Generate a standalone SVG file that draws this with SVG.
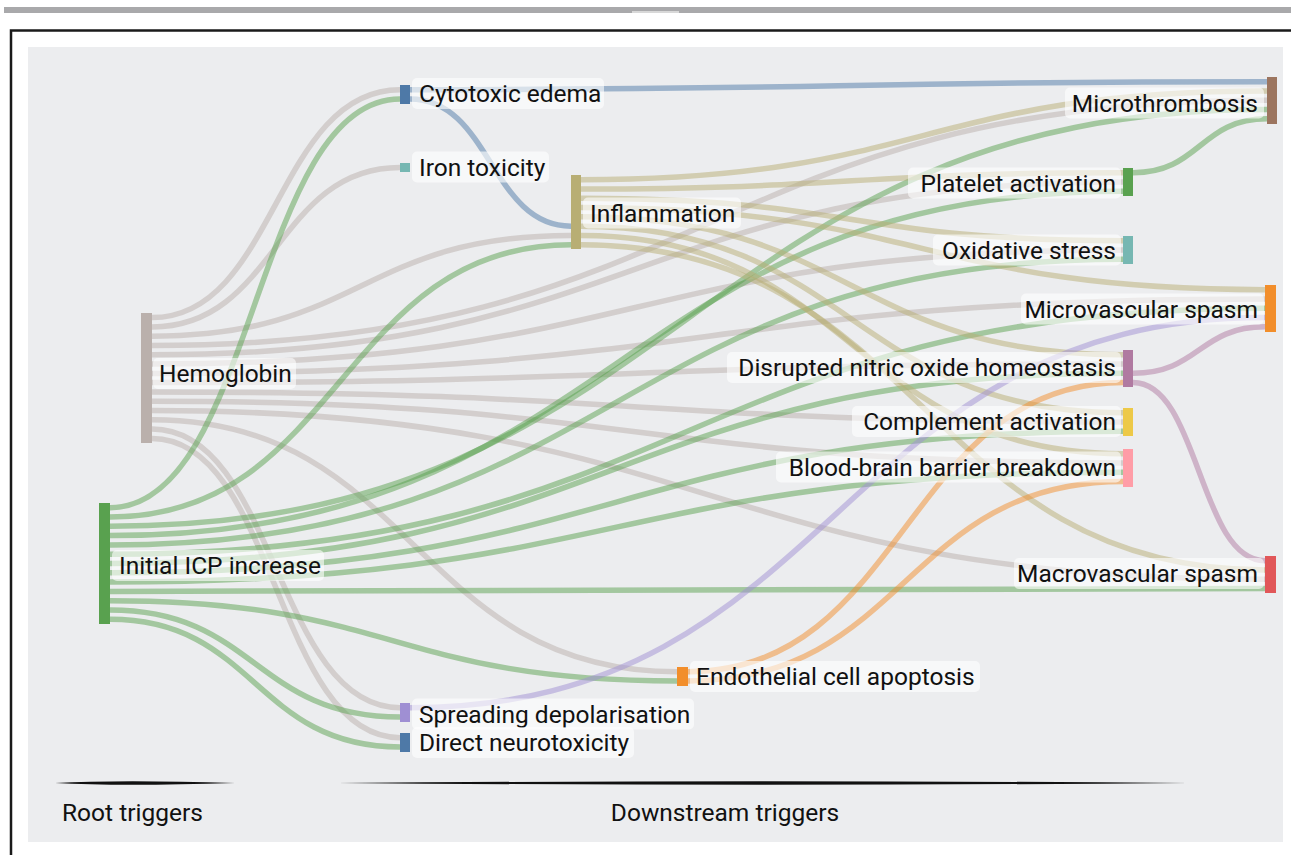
<svg xmlns="http://www.w3.org/2000/svg" width="1291" height="855" viewBox="0 0 1291 855">
<style>
.l{fill:none;stroke-width:5.5;stroke-opacity:0.5}
.hb{stroke:#bab0ac}.icp{stroke:#59a14f}.ce{stroke:#4e79a7}.inf{stroke:#b8ae74}.pa{stroke:#59a14f}
.eca{stroke:#f28e2b}.sd{stroke:#9f8fd3}.dno{stroke:#b07aa1}
.bg{fill:#ffffff;fill-opacity:0.6}
.t{font-family:Roboto,"Liberation Sans",sans-serif;font-size:24.5px;fill:#111}
.e{text-anchor:end}
</style>
<rect x="4" y="7" width="1287" height="6" fill="#a9a9ab"/>
<rect x="632" y="11" width="47" height="2" fill="#d8d8d8"/>
<path d="M11,855V30.5H1291" fill="none" stroke="#1a1a1a" stroke-width="2.5"/>
<rect x="28" y="47" width="1255" height="795" fill="#ecedef"/>
<g id="connectors">
<path class="l hb" d="M152,317.6C276,317.6 276,89.65 400,89.65"/>
<path class="l hb" d="M152,326.9C276,326.9 276,167.5 400,167.5"/>
<path class="l hb" d="M152,336.2C361.5,336.2 361.5,235.45 571,235.45"/>
<path class="l hb" d="M152,345.5C709.5,345.5 709.5,100.25 1267,100.25"/>
<path class="l hb" d="M152,354.8C637.5,354.8 637.5,181.95 1123,181.95"/>
<path class="l hb" d="M152,364.1C637.5,364.1 637.5,249.95 1123,249.95"/>
<path class="l hb" d="M152,373.4C708.5,373.4 708.5,298.95 1265,298.95"/>
<path class="l hb" d="M152,382.6C637.5,382.6 637.5,363.95 1123,363.95"/>
<path class="l hb" d="M152,391.9C637.5,391.9 637.5,421.95 1123,421.95"/>
<path class="l hb" d="M152,401.2C637.5,401.2 637.5,462.95 1123,462.95"/>
<path class="l hb" d="M152,410.5C708.5,410.5 708.5,579.25 1265,579.25"/>
<path class="l hb" d="M152,419.8C414.5,419.8 414.5,671.65 677,671.65"/>
<path class="l hb" d="M152,429.1C276,429.1 276,707.65 400,707.65"/>
<path class="l hb" d="M152,438.4C276,438.4 276,737.65 400,737.65"/>
<path class="l icp" d="M110,507.7C255,507.7 255,98.95 400,98.95"/>
<path class="l icp" d="M110,517C340.5,517 340.5,244.75 571,244.75"/>
<path class="l icp" d="M110,526.3C688.5,526.3 688.5,109.55 1267,109.55"/>
<path class="l icp" d="M110,535.6C616.5,535.6 616.5,191.25 1123,191.25"/>
<path class="l icp" d="M110,544.9C616.5,544.9 616.5,259.25 1123,259.25"/>
<path class="l icp" d="M110,554.2C687.5,554.2 687.5,308.25 1265,308.25"/>
<path class="l icp" d="M110,563.5C616.5,563.5 616.5,373.25 1123,373.25"/>
<path class="l icp" d="M110,572.8C616.5,572.8 616.5,431.25 1123,431.25"/>
<path class="l icp" d="M110,582.1C616.5,582.1 616.5,472.25 1123,472.25"/>
<path class="l icp" d="M110,591.4C687.5,591.4 687.5,588.55 1265,588.55"/>
<path class="l icp" d="M110,600.7C393.5,600.7 393.5,680.95 677,680.95"/>
<path class="l icp" d="M110,610C255,610 255,716.95 400,716.95"/>
<path class="l icp" d="M110,619.3C255,619.3 255,746.95 400,746.95"/>
<path class="l ce" d="M410,89.65C838.5,89.65 838.5,81.65 1267,81.65"/>
<path class="l ce" d="M410,98.95C490.5,98.95 490.5,226.15 571,226.15"/>
<path class="l inf" d="M581,179.65C924,179.65 924,90.95 1267,90.95"/>
<path class="l inf" d="M581,188.95C852,188.95 852,172.65 1123,172.65"/>
<path class="l inf" d="M581,198.25C852,198.25 852,240.65 1123,240.65"/>
<path class="l inf" d="M581,207.55C923,207.55 923,289.65 1265,289.65"/>
<path class="l inf" d="M581,216.85C852,216.85 852,354.65 1123,354.65"/>
<path class="l inf" d="M581,226.15C852,226.15 852,412.65 1123,412.65"/>
<path class="l inf" d="M581,235.45C852,235.45 852,453.65 1123,453.65"/>
<path class="l inf" d="M581,244.75C923,244.75 923,569.95 1265,569.95"/>
<path class="l pa" d="M1133,172.65C1200,172.65 1200,118.85 1267,118.85"/>
<path class="l eca" d="M688,671.65C905.5,671.65 905.5,382.55 1123,382.55"/>
<path class="l eca" d="M688,680.95C905.5,680.95 905.5,481.55 1123,481.55"/>
<path class="l sd" d="M410,707.65C837.5,707.65 837.5,317.55 1265,317.55"/>
<path class="l dno" d="M1133,373.25C1199,373.25 1199,326.85 1265,326.85"/>
<path class="l dno" d="M1133,382.55C1199,382.55 1199,560.65 1265,560.65"/>
</g>
<g id="node-hemoglobin"><rect x="141" y="313" width="11" height="130" fill="#bab0ac"/><rect class="bg" x="153" y="358" width="143" height="31" rx="5"/><text class="t" x="159" y="382.2">Hemoglobin</text></g>
<g id="node-icp"><rect x="99" y="503" width="11" height="121" fill="#59a14f"/><rect class="bg" x="112" y="550" width="212" height="31" rx="5"/><text class="t" x="119" y="574.2">Initial ICP increase</text></g>
<g id="node-cytotoxic-edema"><rect x="400" y="85" width="10" height="19" fill="#4e79a7"/><rect class="bg" x="412" y="78" width="192" height="31" rx="5"/><text class="t" x="419" y="102.2">Cytotoxic edema</text></g>
<g id="node-iron-toxicity"><rect x="400" y="163" width="10" height="9" fill="#76b7b2"/><rect class="bg" x="412" y="151.5" width="137" height="31" rx="5"/><text class="t" x="419" y="175.7">Iron toxicity</text></g>
<g id="node-inflammation"><rect x="571" y="175" width="10" height="74" fill="#b8ae74"/><rect class="bg" x="583" y="197.5" width="158" height="31" rx="5"/><text class="t" x="590" y="221.7">Inflammation</text></g>
<g id="node-spreading-depolarisation"><rect x="400" y="703" width="10" height="19" fill="#9f8fd3"/><rect class="bg" x="412" y="698.5" width="282" height="31" rx="5"/><text class="t" x="419" y="722.7">Spreading depolarisation</text></g>
<g id="node-direct-neurotoxicity"><rect x="400" y="733" width="10" height="19" fill="#4e79a7"/><rect class="bg" x="412" y="727" width="222" height="31" rx="5"/><text class="t" x="419" y="750.7">Direct neurotoxicity</text></g>
<g id="node-endothelial-cell-apoptosis"><rect x="677" y="667" width="11" height="19" fill="#f28e2b"/><rect class="bg" x="690" y="661" width="290" height="31" rx="5"/><text class="t" x="696" y="685.2">Endothelial cell apoptosis</text></g>
<g id="node-microthrombosis"><rect x="1267" y="77" width="10" height="47" fill="#9c755f"/><rect class="bg" x="1065" y="87.5" width="199" height="31" rx="5"/><text class="t e" x="1258" y="111.7">Microthrombosis</text></g>
<g id="node-platelet-activation"><rect x="1123" y="168" width="10" height="28" fill="#59a14f"/><rect class="bg" x="908" y="167.5" width="213" height="31" rx="5"/><text class="t e" x="1116" y="191.7">Platelet activation</text></g>
<g id="node-oxidative-stress"><rect x="1123" y="236" width="10" height="28" fill="#76b7b2"/><rect class="bg" x="933" y="234.5" width="188" height="31" rx="5"/><text class="t e" x="1116" y="258.7">Oxidative stress</text></g>
<g id="node-microvascular-spasm"><rect x="1265" y="285" width="11" height="47" fill="#f28e2b"/><rect class="bg" x="1021" y="293.5" width="243" height="31" rx="5"/><text class="t e" x="1258" y="317.7">Microvascular spasm</text></g>
<g id="node-disrupted-no"><rect x="1123" y="350" width="10" height="37" fill="#b07aa1"/><rect class="bg" x="727" y="352" width="394" height="31" rx="5"/><text class="t e" x="1116" y="376.2">Disrupted nitric oxide homeostasis</text></g>
<g id="node-complement-activation"><rect x="1123" y="408" width="10" height="28" fill="#edc948"/><rect class="bg" x="852" y="406" width="269" height="31" rx="5"/><text class="t e" x="1116" y="430.2">Complement activation</text></g>
<g id="node-bbb-breakdown"><rect x="1123" y="449" width="10" height="38" fill="#ff9da7"/><rect class="bg" x="776" y="451.5" width="345" height="31" rx="5"/><text class="t e" x="1116" y="475.7">Blood-brain barrier breakdown</text></g>
<g id="node-macrovascular-spasm"><rect x="1265" y="556" width="11" height="37" fill="#e15759"/><rect class="bg" x="1014" y="558" width="250" height="31" rx="5"/><text class="t e" x="1258" y="582.2">Macrovascular spasm</text></g>
<g id="axis">
<path d="M55,783Q120,779.5 235,783Q120,786.5 55,783Z" fill="#111"/>
<path d="M338,783Q760,779.5 1188,783Q760,786.5 338,783Z" fill="#111"/>
<text class="t" x="62" y="821">Root triggers</text>
<text class="t" x="725" y="821" text-anchor="middle">Downstream triggers</text>
</g>
</svg>
